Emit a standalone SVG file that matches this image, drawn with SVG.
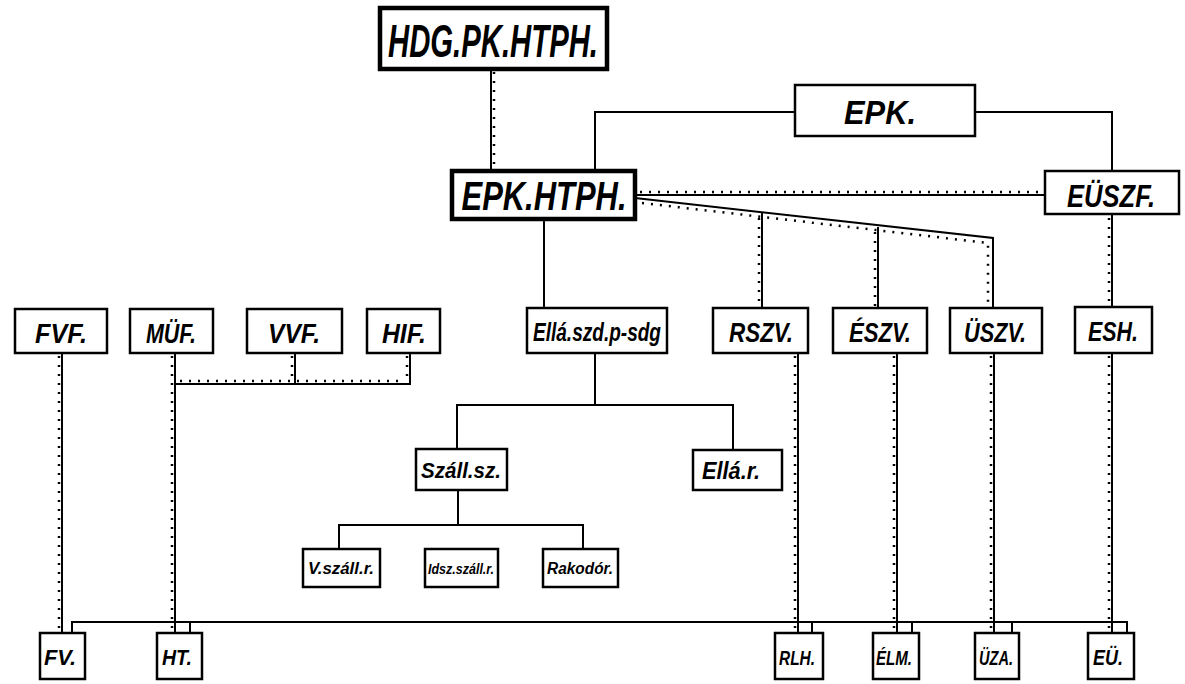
<svg xmlns="http://www.w3.org/2000/svg" width="1185" height="684" viewBox="0 0 1185 684">
<style>
rect{fill:#fff;stroke:#000;stroke-width:2.5}
rect.thick{stroke-width:4.5}
rect.bg{stroke:none}
text{font-family:"Liberation Sans",Arial,sans-serif;font-weight:bold;font-style:italic;fill:#000;text-anchor:middle}
.s{fill:none;stroke:#000;stroke-width:2}
.d{fill:none;stroke:#000;stroke-width:2.5;stroke-dasharray:2 7}
</style>
<rect class="bg" width="1185" height="684"/>
<g id="connectors">
<path class="s" d="M491 70V170"/><path class="d" d="M494 72V168"/>
<path class="s" d="M795 112H595V170"/>
<path class="s" d="M975 112H1112V170"/>
<path class="s" d="M635 195H1045"/><path class="d" d="M640 192H1043"/>
<path class="s" d="M635 198L993 238V308"/><path class="d" d="M642 203L988 243V306"/>
<path class="s" d="M762 213V308"/><path class="d" d="M759 218V306"/>
<path class="s" d="M878 227V308"/><path class="d" d="M875 232V306"/>
<path class="s" d="M544 220V307"/>
<path class="s" d="M1112 215V307"/><path class="d" d="M1109 218V305"/>
<path class="s" d="M595 353V405M457 449V405H733V450"/>
<path class="s" d="M458 490V525M339 549V525H583V549"/>
<path class="s" d="M175 384H410V353M295 353V384"/>
<path class="d" d="M180 381H405M292 356V380M407 356V380"/>
<path class="s" d="M62 353V633"/><path class="d" d="M59 356V631"/>
<path class="s" d="M175 353V633"/><path class="d" d="M172 356V631"/>
<path class="s" d="M798 353V633"/><path class="d" d="M795 356V631"/>
<path class="s" d="M897 353V633"/><path class="d" d="M894 356V631"/>
<path class="s" d="M994 354V633"/><path class="d" d="M991 356V631"/>
<path class="s" d="M1112 354V633"/><path class="d" d="M1109 356V631"/>
<path class="s" d="M72 633V622H1127V633M190 622V633M812 622V633M912 622V633M1012 622V633"/>
</g>
<g id="hdg"><rect class="thick" x="380" y="8" width="227" height="61"/><text x="493" y="57" font-size="46" textLength="210" lengthAdjust="spacingAndGlyphs">HDG.PK.HTPH.</text></g>
<g id="epk"><rect x="795" y="85" width="180" height="51"/><text x="880" y="124" font-size="34" textLength="72" lengthAdjust="spacingAndGlyphs">EPK.</text></g>
<g id="epkhtph"><rect class="thick" x="452" y="171" width="183" height="48"/><text x="544" y="210" font-size="40" textLength="165" lengthAdjust="spacingAndGlyphs">EPK.HTPH.</text></g>
<g id="euszf"><rect x="1045" y="171" width="134" height="43"/><text x="1111" y="207" font-size="32" textLength="88" lengthAdjust="spacingAndGlyphs">EÜSZF.</text></g>
<g id="fvf"><rect x="15" y="309" width="92" height="44"/><text x="61" y="343" font-size="28" textLength="52" lengthAdjust="spacingAndGlyphs">FVF.</text></g>
<g id="muf"><rect x="130" y="309" width="83" height="44"/><text x="171" y="343" font-size="28" textLength="50" lengthAdjust="spacingAndGlyphs">MÜF.</text></g>
<g id="vvf"><rect x="247" y="309" width="95" height="44"/><text x="294" y="343" font-size="28" textLength="52" lengthAdjust="spacingAndGlyphs">VVF.</text></g>
<g id="hif"><rect x="367" y="309" width="73" height="44"/><text x="404" y="343" font-size="28" textLength="44" lengthAdjust="spacingAndGlyphs">HIF.</text></g>
<g id="ella"><rect x="527" y="308" width="140" height="45"/><text x="597" y="341" font-size="25" textLength="128" lengthAdjust="spacingAndGlyphs">Ellá.szd.p-sdg</text></g>
<g id="rszv"><rect x="713" y="308" width="95" height="45"/><text x="761" y="342" font-size="28" textLength="64" lengthAdjust="spacingAndGlyphs">RSZV.</text></g>
<g id="eszv"><rect x="833" y="308" width="94" height="45"/><text x="880" y="342" font-size="28" textLength="62" lengthAdjust="spacingAndGlyphs">ÉSZV.</text></g>
<g id="uszv"><rect x="950" y="308" width="92" height="45"/><text x="995" y="342" font-size="28" textLength="62" lengthAdjust="spacingAndGlyphs">ÜSZV.</text></g>
<g id="esh"><rect x="1075" y="307" width="77" height="46"/><text x="1113" y="341" font-size="28" textLength="50" lengthAdjust="spacingAndGlyphs">ESH.</text></g>
<g id="szall"><rect x="416" y="449" width="91" height="41"/><text x="461" y="478" font-size="22" textLength="80" lengthAdjust="spacingAndGlyphs">Száll.sz.</text></g>
<g id="ellar"><rect x="693" y="450" width="89" height="40"/><text x="731" y="479" font-size="24" textLength="58" lengthAdjust="spacingAndGlyphs">Ellá.r.</text></g>
<g id="vszall"><rect x="303" y="549" width="77" height="38"/><text x="341" y="574" font-size="16" textLength="66" lengthAdjust="spacingAndGlyphs">V.száll.r.</text></g>
<g id="idsz"><rect x="425" y="549" width="73" height="38"/><text x="461" y="574" font-size="15" textLength="66" lengthAdjust="spacingAndGlyphs">Idsz.száll.r.</text></g>
<g id="rakodo"><rect x="543" y="549" width="75" height="38"/><text x="580" y="574" font-size="16" textLength="66" lengthAdjust="spacingAndGlyphs">Rakodór.</text></g>
<g id="fv"><rect x="40" y="633" width="45" height="46"/><text x="60" y="665" font-size="22" textLength="32" lengthAdjust="spacingAndGlyphs">FV.</text></g>
<g id="ht"><rect x="157" y="633" width="45" height="46"/><text x="177" y="665" font-size="22" textLength="30" lengthAdjust="spacingAndGlyphs">HT.</text></g>
<g id="rlh"><rect x="775" y="633" width="48" height="46"/><text x="797" y="665" font-size="20" textLength="36" lengthAdjust="spacingAndGlyphs">RLH.</text></g>
<g id="elm"><rect x="873" y="633" width="46" height="46"/><text x="894" y="665" font-size="20" textLength="36" lengthAdjust="spacingAndGlyphs">ÉLM.</text></g>
<g id="uza"><rect x="975" y="633" width="44" height="46"/><text x="996" y="665" font-size="20" textLength="34" lengthAdjust="spacingAndGlyphs">ÜZA.</text></g>
<g id="eu"><rect x="1088" y="633" width="46" height="46"/><text x="1108" y="665" font-size="22" textLength="30" lengthAdjust="spacingAndGlyphs">EÜ.</text></g>
</svg>
